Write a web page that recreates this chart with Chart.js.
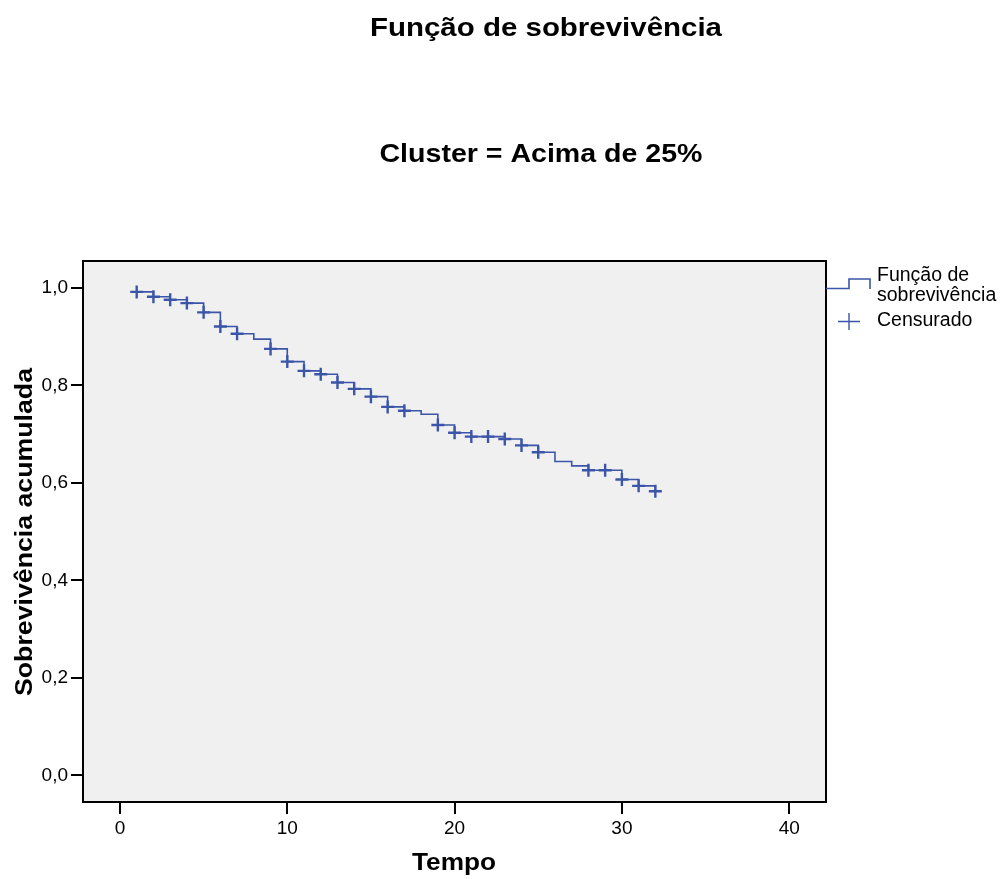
<!DOCTYPE html>
<html lang="pt">
<head>
<meta charset="UTF-8">
<title>Função de sobrevivência</title>
<script src="https://cdn.jsdelivr.net/npm/chart.js"></script>
<style>
    body { margin: 0; background: #ffffff; }
    #wrap { width: 1000px; height: 879px; }
</style>
</head>
<body>
<div id="wrap"><canvas id="kmChart" width="1000" height="879"></canvas></div>

<script>
// Tempos (eventos) e sobrevivência acumulada depois de cada tempo
var tempos = [1, 2, 3, 4, 5, 6, 7, 8, 9, 10, 11, 12, 13, 14, 15, 16,
              17, 18, 19, 20, 21, 22, 23, 24, 25, 26, 27, 28, 29, 30, 31, 32];
var sobrevivencia = [0.992, 0.982, 0.976, 0.969, 0.950, 0.921, 0.906, 0.895,
                     0.875, 0.849, 0.830, 0.823, 0.806, 0.793, 0.777, 0.756,
                     0.748, 0.741, 0.719, 0.703, 0.695, 0.695, 0.690, 0.677,
                     0.663, 0.644, 0.635, 0.626, 0.626, 0.607, 0.594, 0.583];
// Tempos com casos censurados
var temposCensurados = [1, 2, 3, 4, 5, 6, 7, 9, 10, 11, 12, 13, 14, 15, 16, 17,
                        19, 20, 21, 22, 23, 24, 25, 28, 29, 30, 31, 32];
// Marcas dos eixos
var ticksX = [0, 10, 20, 30, 40];
var ticksY = [0, 0.2, 0.4, 0.6, 0.8, 1.0];

var titulo = 'Função de sobrevivência';
var subtitulo = 'Cluster = Acima de 25%';
var tituloX = 'Tempo';
var tituloY = 'Sobrevivência acumulada';
var legendaLinha = ['Função de', 'sobrevivência'];
var legendaCensurado = 'Censurado';

var azul = '#3b55a8';
var fonte = '"Liberation Sans", Arial, sans-serif';

var dadosLinha = tempos.map(function(t, i) { return { x: t, y: sobrevivencia[i] }; });
var dadosCensurados = temposCensurados.map(function(t) {
    return { x: t, y: sobrevivencia[tempos.indexOf(t)] };
});

// texto esticado para a largura desejada
function textoLargura(ctx, txt, x, y, largura, rot) {
    ctx.save();
    ctx.translate(x, y);
    if (rot) ctx.rotate(rot);
    var w = ctx.measureText(txt).width;
    ctx.scale(largura / w, 1);
    ctx.textAlign = 'center';
    ctx.fillText(txt, 0, 0);
    ctx.restore();
}

var decoracao = {
    id: 'decoracao',
    beforeDatasetsDraw: function(chart) {
        var a = chart.chartArea, ctx = chart.ctx;
        ctx.save();
        ctx.fillStyle = '#f0f0f0';
        ctx.fillRect(a.left, a.top, a.right - a.left, a.bottom - a.top);
        ctx.restore();
    },
    afterDraw: function(chart) {
        var a = chart.chartArea, ctx = chart.ctx;
        ctx.save();
        // moldura
        ctx.strokeStyle = '#000';
        ctx.lineWidth = 2;
        ctx.strokeRect(a.left, a.top, a.right - a.left, a.bottom - a.top);

        // títulos
        ctx.fillStyle = '#000';
        ctx.textBaseline = 'alphabetic';
        ctx.font = 'bold 25px ' + fonte;
        textoLargura(ctx, titulo, 546, 36, 352);
        textoLargura(ctx, subtitulo, 541, 162, 323);
        ctx.font = 'bold 23px ' + fonte;
        textoLargura(ctx, tituloX, 454, 870, 84);
        textoLargura(ctx, tituloY, 32, 532, 328, -Math.PI / 2);

        // legenda
        ctx.strokeStyle = azul;
        ctx.lineWidth = 1.6;
        ctx.beginPath();
        ctx.moveTo(a.right, 288.5);
        ctx.lineTo(849, 288.5);
        ctx.lineTo(849, 279);
        ctx.lineTo(870, 279);
        ctx.lineTo(870, 289);
        ctx.stroke();
        ctx.lineWidth = 1.4;
        ctx.beginPath();
        ctx.moveTo(838, 321.5);
        ctx.lineTo(860, 321.5);
        ctx.moveTo(849, 313);
        ctx.lineTo(849, 330);
        ctx.stroke();
        ctx.fillStyle = '#000';
        ctx.font = '19.5px ' + fonte;
        ctx.textAlign = 'left';
        ctx.fillText(legendaLinha[0], 877, 281);
        ctx.fillText(legendaLinha[1], 877, 301);
        ctx.fillText(legendaCensurado, 877, 326);
        ctx.restore();
    }
};

var ctx = document.getElementById('kmChart').getContext('2d');
var kmChart = new Chart(ctx, {
    type: 'scatter',
    data: {
        datasets: [
            {
                label: 'Função de sobrevivência',
                data: dadosLinha,
                showLine: true,
                stepped: 'before',
                borderColor: azul,
                borderWidth: 1.6,
                pointRadius: 0,
                fill: false
            },
            {
                label: 'Censurado',
                data: dadosCensurados,
                showLine: false,
                pointStyle: 'cross',
                pointRadius: 6.5,
                borderColor: azul,
                backgroundColor: azul,
                pointBorderWidth: 2.4,
                borderWidth: 2.4
            }
        ]
    },
    options: {
        responsive: false,
        animation: false,
        layout: { padding: { left: 0, top: 261, right: 174, bottom: 0 } },
        plugins: {
            legend: { display: false },
            title: { display: false },
            tooltip: { enabled: false }
        },
        scales: {
            x: {
                type: 'linear',
                min: -2.21,
                max: 42.2,
                afterBuildTicks: function(scale) {
                    scale.ticks = ticksX.map(function(v) { return { value: v }; });
                },
                afterFit: function(scale) { scale.height = 77; },
                grid: { drawOnChartArea: false, drawTicks: true, tickLength: 12, color: '#000', lineWidth: 2 },
                border: { display: false },
                ticks: {
                    color: '#000',
                    padding: 3,
                    maxRotation: 0,
                    font: { family: fonte, size: 19 },
                    callback: function(v) { return String(v); }
                }
            },
            y: {
                type: 'linear',
                min: -0.0548,
                max: 1.0554,
                afterBuildTicks: function(scale) {
                    scale.ticks = ticksY.map(function(v) { return { value: v }; });
                },
                afterFit: function(scale) { scale.width = 83; },
                grid: { drawOnChartArea: false, drawTicks: true, tickLength: 12, color: '#000', lineWidth: 2 },
                border: { display: false },
                ticks: {
                    color: '#000',
                    padding: 3,
                    font: { family: fonte, size: 19 },
                    callback: function(v) { return v.toFixed(1).replace('.', ','); }
                }
            }
        }
    },
    plugins: [decoracao]
});
</script>
</body>
</html>
